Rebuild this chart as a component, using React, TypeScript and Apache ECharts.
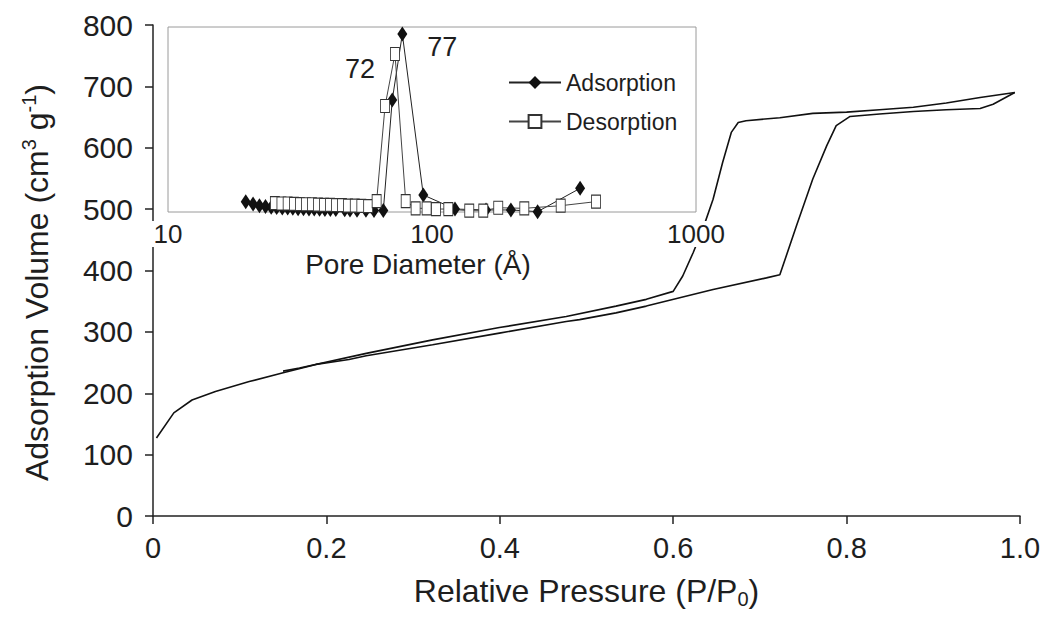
import React, { useEffect, useRef } from 'react';
import * as echarts from 'echarts';

// Main isotherm (relative pressure vs adsorbed volume)
const adsX = [0.004, 0.024, 0.045, 0.072, 0.111, 0.149, 0.188, 0.226, 0.246, 0.3225, 0.3995, 0.4766, 0.492, 0.534, 0.569, 0.646, 0.7075, 0.723, 0.742, 0.761, 0.777, 0.788, 0.804, 0.838, 0.877, 0.915, 0.954, 0.969, 0.994];
const adsY = [127, 168, 189, 203, 219, 233, 247, 255, 261, 279, 298, 317, 320, 331, 342, 369, 388, 393, 472, 549, 603, 636, 651, 655, 659, 662, 664, 671, 690];
const desX = [0.994, 0.954, 0.915, 0.877, 0.838, 0.8, 0.761, 0.723, 0.684, 0.675, 0.667, 0.657, 0.646, 0.634, 0.623, 0.611, 0.6, 0.569, 0.534, 0.4766, 0.3995, 0.3225, 0.246, 0.169, 0.15];
const desY = [690, 682, 673, 666, 662, 658, 656, 649, 644, 641, 625, 576, 516, 467, 429, 391, 366, 353, 342, 325, 307, 287, 265, 241, 236];

// Inset: pore size distribution
const psdAdsD = [19.7, 21.0, 22.2, 23.4, 24.6, 25.8, 27.1, 28.4, 29.7, 31.1, 32.6, 34.2, 35.8, 37.5, 39.3, 41.2, 43.2, 46.7, 48.9, 52.0, 56.2, 60.3, 65.4, 70.7, 77.2, 92.7, 122.2, 160.2, 199, 251.2, 363.9];
const psdAdsV = [5.6, 4.3, 3.4, 3.0, 2.6, 2.5, 2.2, 2.1, 2.0, 1.8, 1.8, 1.6, 1.6, 1.5, 1.4, 1.3, 1.3, 1.2, 1.1, 1.0, 0.9, 0.8, 0.8, 60.5, 96.2, 9.2, 1.6, 1.1, 1.1, 0.2, 12.8];
const psdDesD = [25.4, 26.9, 28.4, 30.0, 31.6, 33.3, 35.1, 37.0, 39.0, 41.1, 43.3, 45.6, 48.1, 51.0, 54.0, 57.3, 61.7, 66.4, 72.4, 79.5, 86.7, 95.4, 103.5, 115.3, 138.4, 156.4, 178.2, 223.7, 307.3, 418];
const psdDesV = [4.8, 4.6, 4.6, 4.4, 4.3, 4.2, 4.2, 4.0, 3.9, 3.9, 3.7, 3.7, 3.5, 3.4, 3.3, 3.2, 5.9, 57.3, 85.4, 5.9, 2.0, 2.0, 1.6, 1.6, 0.7, 0.7, 2.3, 2.0, 3.4, 5.6];

const seriesNames = ['Adsorption', 'Desorption'];
const peakLabels = ['77', '72'];
const xTickLabels = ['0', '0.2', '0.4', '0.6', '0.8', '1.0'];
const yTicks = [0, 100, 200, 300, 400, 500, 600, 700, 800];
const insetTicks = [10, 100, 1000];

const FONT = 'Liberation Sans, Arial, sans-serif';
const TXT = '#1e1e1e';

function peakIndex(v: number[]) {
  let k = 0;
  v.forEach((x, i) => { if (x > v[k]) k = i; });
  return k;
}

export default function App() {
  const ref = useRef<HTMLDivElement>(null);
  useEffect(() => {
    const chart = echarts.init(ref.current!, null, { renderer: 'svg' });
    const aPk = peakIndex(psdAdsV);
    const dPk = peakIndex(psdDesV);
    const adsData = psdAdsD.map((d, i) =>
      i === aPk
        ? { value: [d, psdAdsV[i]], label: { show: true, formatter: peakLabels[0], position: 'right', offset: [15, 13], fontSize: 27, color: TXT, fontFamily: FONT } }
        : [d, psdAdsV[i]]
    );
    const desData = psdDesD.map((d, i) =>
      i === dPk
        ? { value: [d, psdDesV[i]], label: { show: true, formatter: peakLabels[1], position: 'left', offset: [-10, 15], fontSize: 27, color: TXT, fontFamily: FONT } }
        : [d, psdDesV[i]]
    );
    const option: any = {
      animation: false,
      backgroundColor: '#ffffff',
      textStyle: { fontFamily: FONT },
      grid: [
        { left: 153, right: 36, top: 25, bottom: 106 },
        { left: 168, right: 360, top: 27, bottom: 410, show: true, borderColor: '#9a9a9a', borderWidth: 1, backgroundColor: 'transparent', z: 4 },
      ],
      legend: {
        data: seriesNames,
        orient: 'vertical',
        left: 503,
        top: 66,
        itemWidth: 52,
        itemHeight: 16,
        itemGap: 16,
        textStyle: { fontSize: 23, color: TXT, fontFamily: FONT },
      },
      xAxis: [
        {
          gridIndex: 0, type: 'value', min: 0, max: 1, interval: 0.2,
          name: 'Relative Pressure (P/P{sub|0})', nameLocation: 'middle', nameGap: 57,
          nameTextStyle: { fontSize: 32, color: TXT, fontFamily: FONT, lineHeight: 36, rich: { sub: { fontSize: 20, lineHeight: 18, verticalAlign: 'bottom', color: TXT, fontFamily: FONT } } },
          axisLine: { show: true, lineStyle: { color: '#222', width: 1.5 } },
          axisTick: { show: true, inside: false, length: 8, lineStyle: { color: '#222', width: 1.5 } },
          axisLabel: { fontSize: 29, color: TXT, margin: 17, fontFamily: FONT, formatter: (_v: number, i: number) => xTickLabels[i] },
          splitLine: { show: false },
        },
        {
          gridIndex: 1, type: 'log', logBase: 10, min: insetTicks[0], max: insetTicks[insetTicks.length - 1], z: 6,
          name: 'Pore Diameter (Å)', nameLocation: 'middle', nameGap: 38,
          nameTextStyle: { fontSize: 28, color: TXT, fontFamily: FONT, padding: [0, 28, 0, 0] },
          axisLine: { show: false },
          axisTick: { show: false },
          minorTick: { show: false },
          axisLabel: { fontSize: 26, color: TXT, margin: 9, fontFamily: FONT, backgroundColor: '#ffffff', padding: [0, 2, 0, 2], formatter: (v: number) => String(Math.round(v)) },
          splitLine: { show: false },
        },
      ],
      yAxis: [
        {
          gridIndex: 0, type: 'value', min: yTicks[0], max: yTicks[yTicks.length - 1], interval: 100,
          name: 'Adsorption Volume (cm{sup|3} g{sup|-1})', nameLocation: 'middle', nameRotate: 90, nameGap: 98,
          nameTextStyle: { fontSize: 32, color: TXT, fontFamily: FONT, lineHeight: 36, padding: [0, 24, 0, 0], rich: { sup: { fontSize: 20, lineHeight: 18, verticalAlign: 'top', color: TXT, fontFamily: FONT } } },
          axisLine: { show: true, lineStyle: { color: '#222', width: 1.5 } },
          axisTick: { show: true, inside: false, length: 8, lineStyle: { color: '#222', width: 1.5 } },
          axisLabel: { fontSize: 30, color: TXT, margin: 20, fontFamily: FONT },
          splitLine: { show: false },
        },
        {
          gridIndex: 1, type: 'value', min: 0, max: 100, show: false,
          splitLine: { show: false },
        },
      ],
      series: [
        {
          name: 'isotherm-ads', type: 'line', xAxisIndex: 0, yAxisIndex: 0,
          data: adsX.map((x, i) => [x, adsY[i]]),
          showSymbol: false, symbol: 'none', smooth: false,
          lineStyle: { color: '#111', width: 1.6 },
        },
        {
          name: 'isotherm-des', type: 'line', xAxisIndex: 0, yAxisIndex: 0,
          data: desX.map((x, i) => [x, desY[i]]),
          showSymbol: false, symbol: 'none', smooth: false,
          lineStyle: { color: '#111', width: 1.6 },
        },
        {
          name: seriesNames[0], type: 'line', xAxisIndex: 1, yAxisIndex: 1,
          data: adsData,
          symbol: 'diamond', symbolSize: [10, 15],
          itemStyle: { color: '#111' },
          lineStyle: { color: '#222', width: 1 },
          z: 5,
        },
        {
          name: seriesNames[1], type: 'line', xAxisIndex: 1, yAxisIndex: 1,
          data: desData,
          symbol: 'rect', symbolSize: [9, 13],
          itemStyle: { color: '#ffffff', borderColor: '#333', borderWidth: 1 },
          lineStyle: { color: '#444', width: 1 },
          z: 5,
        },
      ],
    };
    chart.setOption(option);
    return () => chart.dispose();
  }, []);
  return <div ref={ref} style={{ position: 'absolute', left: 0, top: 0, width: 1056, height: 622 }} />;
}
